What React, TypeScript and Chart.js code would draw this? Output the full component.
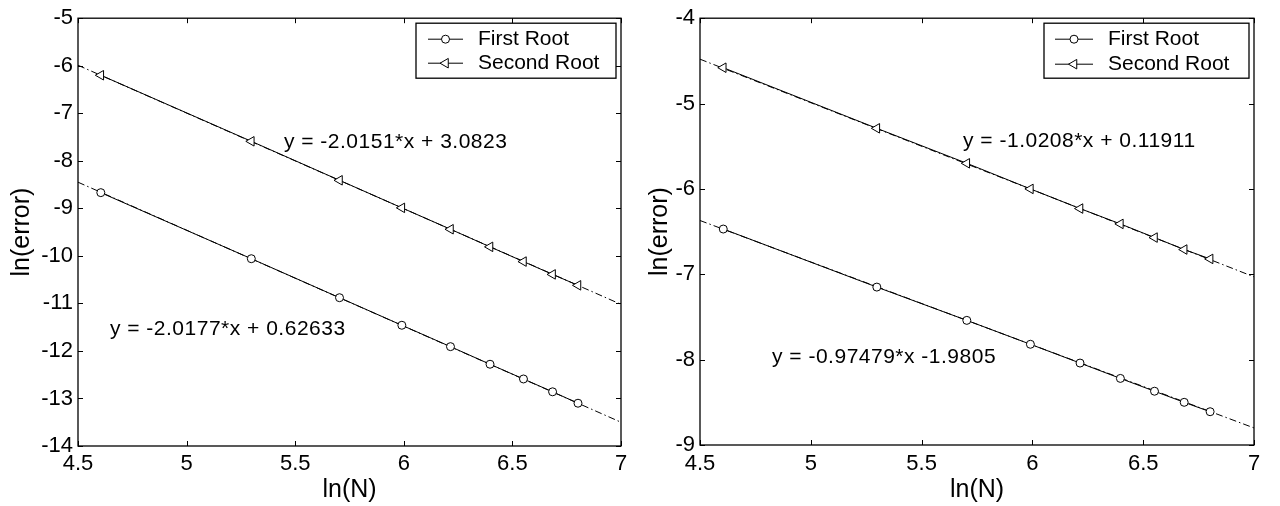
import React, { useEffect, useRef } from "react";
import { Chart, registerables } from "chart.js";

Chart.register(...registerables);

// ---- data ----
const lnN = [4.605, 5.298, 5.704, 5.991, 6.215, 6.397, 6.551, 6.685, 6.802];
const fitRange = [4.5, 7];

const leftFirstRoot = [-8.67, -10.06, -10.88, -11.46, -11.91, -12.28, -12.59, -12.86, -13.1];
const leftSecondRoot = [-6.2, -7.59, -8.41, -8.99, -9.44, -9.81, -10.12, -10.39, -10.62];
const leftFirstFit = [-8.45, -13.5];
const leftSecondFit = [-5.99, -11.02];
const leftEquations = ["y = -2.0151*x + 3.0823", "y = -2.0177*x + 0.62633"];

const rightFirstRoot = [-6.47, -7.15, -7.54, -7.82, -8.04, -8.22, -8.37, -8.5, -8.61];
const rightSecondRoot = [-4.58, -5.29, -5.7, -6.0, -6.23, -6.41, -6.57, -6.71, -6.82];
const rightFirstFit = [-6.37, -8.8];
const rightSecondFit = [-4.48, -7.03];
const rightEquations = ["y = -1.0208*x + 0.11911", "y = -0.97479*x -1.9805"];

const legendLabels = ["First Root", "Second Root"];
const xTitle = "ln(N)";
const yTitle = "ln(error)";

const FONT = '"Liberation Sans", Arial, Helvetica, sans-serif';

const toPts = (xs: number[], ys: number[]) => xs.map((x, i) => ({ x, y: ys[i] }));

type PanelCfg = {
  first: number[];
  second: number[];
  firstFit: number[];
  secondFit: number[];
  yMin: number;
  yMax: number;
  equations: string[];
  eqAnchors: { x: number; y: number }[];
  padTop: number;
  padRight: number;
  yAxisWidth: number;
  xAxisHeight: number;
  yTitlePad: number;
  xTickPad: number;
  legend: { width: number; height: number; lineStart: number; lineEnd: number; textStart: number; rows: number[] };
};

function drawMarker(ctx: CanvasRenderingContext2D, style: string, r: number, rotDeg: number, x: number, y: number) {
  ctx.beginPath();
  if (style === "triangle") {
    let rad = (rotDeg * Math.PI) / 180;
    const step = (2 * Math.PI) / 3;
    ctx.moveTo(x + Math.sin(rad) * r, y - Math.cos(rad) * r);
    rad += step;
    ctx.lineTo(x + Math.sin(rad) * r, y - Math.cos(rad) * r);
    rad += step;
    ctx.lineTo(x + Math.sin(rad) * r, y - Math.cos(rad) * r);
    ctx.closePath();
  } else {
    ctx.arc(x, y, r, 0, Math.PI * 2);
  }
  ctx.fill();
  ctx.stroke();
}

const framePlugin = {
  id: "matlabFrame",
  afterDraw(chart: any, _args: any, opts: any) {
    const { ctx, chartArea: a, scales } = chart;
    const cfg: PanelCfg = opts.cfg;
    ctx.save();
    ctx.strokeStyle = "#000";
    ctx.lineWidth = 1.3;
    ctx.strokeRect(a.left, a.top, a.right - a.left, a.bottom - a.top);
    const tl = 5;
    ctx.lineWidth = 1;
    ctx.beginPath();
    scales.x.ticks.forEach((t: any) => {
      const px = Math.round(scales.x.getPixelForValue(t.value)) + 0.5;
      ctx.moveTo(px, a.bottom);
      ctx.lineTo(px, a.bottom - tl);
      ctx.moveTo(px, a.top);
      ctx.lineTo(px, a.top + tl);
    });
    scales.y.ticks.forEach((t: any) => {
      const py = Math.round(scales.y.getPixelForValue(t.value)) + 0.5;
      ctx.moveTo(a.left, py);
      ctx.lineTo(a.left + tl, py);
      ctx.moveTo(a.right, py);
      ctx.lineTo(a.right - tl, py);
    });
    ctx.stroke();

    // equations
    ctx.fillStyle = "#000";
    ctx.font = `21px ${FONT}`;
    (ctx as any).letterSpacing = "0.5px";
    ctx.textBaseline = "middle";
    ctx.textAlign = "left";
    cfg.equations.forEach((txt, i) => {
      const an = cfg.eqAnchors[i];
      ctx.fillText(txt, scales.x.getPixelForValue(an.x), scales.y.getPixelForValue(an.y));
    });
    (ctx as any).letterSpacing = "0px";

    // legend box
    const L = cfg.legend;
    const bx = a.right - 5 - L.width;
    const by = a.top + 5;
    ctx.fillStyle = "#fff";
    ctx.fillRect(bx, by, L.width, L.height);
    ctx.lineWidth = 1.3;
    ctx.strokeStyle = "#000";
    ctx.strokeRect(bx, by, L.width, L.height);
    ctx.font = `21px ${FONT}`;
    [0, 1].forEach((i) => {
      const ds = chart.data.datasets[i];
      const y = by + L.rows[i];
      ctx.lineWidth = 1;
      ctx.strokeStyle = "#000";
      ctx.beginPath();
      ctx.moveTo(bx + L.lineStart, y);
      ctx.lineTo(bx + L.lineEnd, y);
      ctx.stroke();
      const cx = bx + (L.lineStart + L.lineEnd) / 2;
      ctx.save();
      ctx.fillStyle = "#fff";
      ctx.strokeStyle = "#000";
      ctx.lineWidth = 1;
      drawMarker(ctx, ds.pointStyle, ds.pointRadius, ds.rotation || 0, cx, y);
      ctx.restore();
      ctx.fillStyle = "#000";
      ctx.fillText(ds.label, bx + L.textStart, y);
    });
    ctx.restore();
  },
};

function Panel({ cfg }: { cfg: PanelCfg }) {
  const ref = useRef<HTMLCanvasElement>(null);
  useEffect(() => {
    const dashDot = [7, 3, 1.5, 3];
    const chart = new Chart(ref.current as HTMLCanvasElement, {
      type: "scatter",
      data: {
        datasets: [
          {
            label: legendLabels[0],
            data: toPts(lnN, cfg.first),
            showLine: true,
            borderColor: "#000",
            borderWidth: 1,
            pointStyle: "circle",
            pointRadius: 4,
            pointBorderWidth: 1,
            pointBorderColor: "#000",
            pointBackgroundColor: "#fff",
            order: 0,
          } as any,
          {
            label: legendLabels[1],
            data: toPts(lnN, cfg.second),
            showLine: true,
            borderColor: "#000",
            borderWidth: 1,
            pointStyle: "triangle",
            rotation: 270,
            pointRadius: 5.5,
            pointBorderWidth: 1,
            pointBorderColor: "#000",
            pointBackgroundColor: "#fff",
            order: 0,
          } as any,
          {
            label: "fit1",
            data: toPts(fitRange, cfg.firstFit),
            showLine: true,
            borderColor: "#000",
            borderWidth: 1,
            borderDash: dashDot,
            pointRadius: 0,
            order: 1,
          } as any,
          {
            label: "fit2",
            data: toPts(fitRange, cfg.secondFit),
            showLine: true,
            borderColor: "#000",
            borderWidth: 1,
            borderDash: dashDot,
            pointRadius: 0,
            order: 1,
          } as any,
        ],
      },
      options: {
        animation: false,
        responsive: false,
        maintainAspectRatio: false,
        devicePixelRatio: 1,
        layout: { padding: { top: cfg.padTop, right: cfg.padRight, left: 0, bottom: 0 } },
        plugins: {
          legend: { display: false },
          tooltip: { enabled: false },
          matlabFrame: { cfg },
        } as any,
        scales: {
          x: {
            type: "linear",
            min: 4.5,
            max: 7,
            ticks: {
              stepSize: 0.5,
              color: "#000",
              padding: cfg.xTickPad,
              font: { family: FONT, size: 22 },
              maxRotation: 0,
              callback: (v: any) => String(v),
            },
            grid: { display: false, drawTicks: false },
            border: { display: false },
            title: {
              display: true,
              text: xTitle,
              color: "#000",
              font: { family: FONT, size: 25 },
              padding: { top: 0, bottom: 1 },
            },
            afterFit: (s: any) => {
              s.height = cfg.xAxisHeight;
            },
          },
          y: {
            type: "linear",
            min: cfg.yMin,
            max: cfg.yMax,
            ticks: {
              stepSize: 1,
              color: "#000",
              padding: 5,
              font: { family: FONT, size: 22 },
              callback: (v: any) => String(v),
            },
            grid: { display: false, drawTicks: false },
            border: { display: false },
            title: {
              display: true,
              text: yTitle,
              color: "#000",
              font: { family: FONT, size: 25 },
              padding: { top: cfg.yTitlePad, bottom: 0 },
            },
            afterFit: (s: any) => {
              s.width = cfg.yAxisWidth;
            },
          },
        },
      } as any,
      plugins: [framePlugin as any],
    });
    return () => chart.destroy();
  }, [cfg]);
  return <canvas ref={ref} width={640} height={506} style={{ display: "block", width: 640, height: 506 }} />;
}

const leftCfg: PanelCfg = {
  first: leftFirstRoot,
  second: leftSecondRoot,
  firstFit: leftFirstFit,
  secondFit: leftSecondFit,
  yMin: -14,
  yMax: -5,
  equations: leftEquations,
  eqAnchors: [
    { x: 5.448, y: -7.6 },
    { x: 4.647, y: -11.55 },
  ],
  padTop: 17,
  padRight: 19,
  yAxisWidth: 78,
  xAxisHeight: 60,
  yTitlePad: 7,
  xTickPad: 5,
  legend: { width: 200, height: 55, lineStart: 12, lineEnd: 47, textStart: 62, rows: [16, 40] },
};

const rightCfg: PanelCfg = {
  first: rightFirstRoot,
  second: rightSecondRoot,
  firstFit: rightFirstFit,
  secondFit: rightSecondFit,
  yMin: -9,
  yMax: -4,
  equations: rightEquations,
  eqAnchors: [
    { x: 5.687, y: -5.443 },
    { x: 4.825, y: -7.972 },
  ],
  padTop: 12,
  padRight: 26,
  yAxisWidth: 60,
  xAxisHeight: 61,
  yTitlePad: 5,
  xTickPad: 6,
  legend: { width: 205, height: 55, lineStart: 11, lineEnd: 49, textStart: 64, rows: [16, 41] },
};

export default function App() {
  return (
    <div style={{ position: "fixed", left: 0, top: 0, width: 1280, height: 506, background: "#fff", display: "flex" }}>
      <Panel cfg={leftCfg} />
      <Panel cfg={rightCfg} />
    </div>
  );
}
